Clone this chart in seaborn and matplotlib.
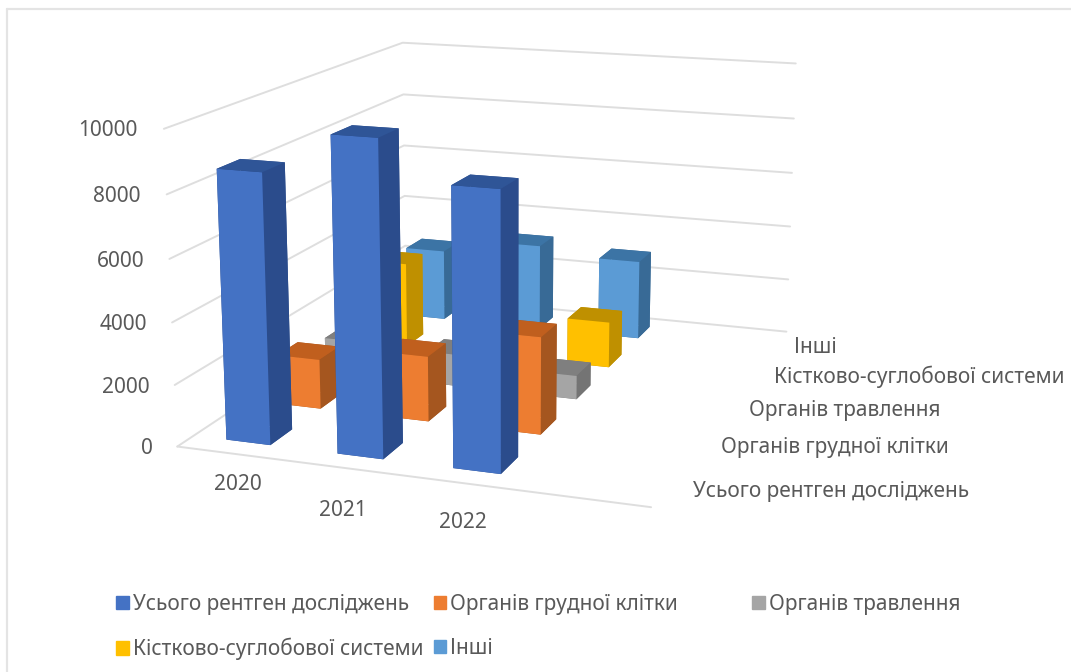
import numpy as np
import matplotlib
matplotlib.use("Agg")
import matplotlib.pyplot as plt
from matplotlib.lines import Line2D
from matplotlib.patches import Patch
import seaborn as sns

years = ["2020", "2021", "2022"]
series = ["Усього рентген досліджень", "Органів грудної клітки", "Органів травлення",
          "Кістково-суглобової системи", "Інші"]
total = [8650, 9950, 8700]
chest = [1670, 2170, 3200]
digestive = [1200, 1100, 810]
skeletal = [3050, 900, 1620]
other = [2630, 3150, 2880]
z_ticks = [0, 2000, 4000, 6000, 8000, 10000]

front = ["#4472C4", "#ED7D31", "#A5A5A5", "#FFC000", "#5B9BD5"]
top = ["#2F5597", "#C05F1E", "#7F7F7F", "#BF9000", "#3C74A5"]
side = ["#2B4C8C", "#A5561F", "#747474", "#BF9000", "#386A96"]

W, H = 1071, 672
sns.set_theme(style="white")
plt.rcParams["font.family"] = ["Noto Sans", "DejaVu Sans"]
text_color = "#595959"
grid_color = "#DEDEDE"

fig = plt.figure(figsize=(W / 100, H / 100), dpi=100)
S = 800
cx, cy = 498, 252
ax = fig.add_axes([(cx - S / 2) / W, 1 - (cy + S / 2) / H, S / W, S / H], projection="3d")
ax.set_proj_type("persp", focal_length=0.465)
ax.view_init(elev=14, azim=-70.5)
ax.computed_zorder = False
ax.set_axis_off()

n_slots = 4
n_rows = len(series)

# Wall and floor rules
for z in z_ticks:
    ax.plot([0, 0, n_slots], [0, n_rows, n_rows], [z, z, z], color=grid_color, lw=1.4, zorder=1)
ax.plot([0, n_slots], [0, 0], [0, 0], color=grid_color, lw=1.4, zorder=1)

# Bars, painted from the back row forward and left to right
values = np.array([total, chest, digestive, skeletal, other])
bar_w, bar_d = 0.40, 0.42
order = 2
for r in range(n_rows - 1, -1, -1):
    for c in range(len(years)):
        faces = [side[r], top[r], front[r], side[r], side[r], side[r]]
        ax.bar3d([c + 0.5 - bar_w / 2], [r + 0.5 - bar_d / 2], [0], bar_w, bar_d, values[r, c],
                 color=faces, shade=False, linewidth=0, zorder=order)
        order += 1

ax.set_xlim(0, n_slots)
ax.set_ylim(0, n_rows)
ax.set_zlim(0, 10000)
ax.set_box_aspect((433, 530, 285), zoom=0.946)

# Thin frame along the top and left edges
for xs, ys in (([7, 1071], [9, 9]), ([7, 7], [9, 672])):
    fig.add_artist(Line2D([x / W for x in xs], [1 - y / H for y in ys], color="#E4E4E4", lw=1.6))


def px_text(x, y, s, ha="left", size=15):
    fig.text(x / W, 1 - (y + 3) / H, s, ha=ha, va="center", color=text_color, fontsize=size)


tick_x = [153, 150, 147, 145, 140, 138]
tick_y = [446, 385, 322, 258, 193, 127]
for z, x, y in zip(z_ticks, tick_x, tick_y):
    px_text(x, y, str(z), ha="right")

for label, x, y in zip(years, [238, 343, 463], [481, 507, 519]):
    px_text(x, y, label, ha="center")

row_x = [693, 721, 749, 774, 794]
row_y = [488, 445, 407, 374, 344]
for label, x, y in zip(series, row_x, row_y):
    px_text(x, y, label)

handles = [Patch(color=c, label=s) for c, s in zip(front, series)]
common = dict(frameon=False, fontsize=15, labelcolor=text_color, handlelength=0.6, handleheight=0.6,
              handletextpad=0.2, borderaxespad=0, borderpad=0, labelspacing=1.1)
fig.legend(handles=[handles[0], handles[3], handles[1], handles[4]], ncol=2, columnspacing=0.5,
           loc="upper left", bbox_to_anchor=(116 / W, 1 - 594 / H), **common)
fig.legend(handles=[handles[2]], loc="upper left", bbox_to_anchor=(752 / W, 1 - 594 / H), **common)

fig.savefig("out.png", dpi=100)
